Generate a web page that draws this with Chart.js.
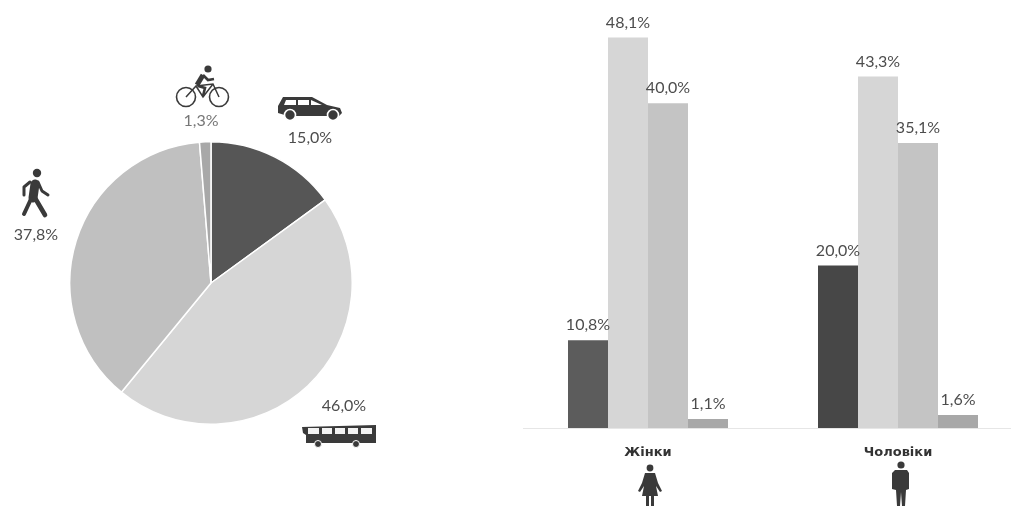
<!DOCTYPE html>
<html>
<head>
<meta charset="utf-8">
<style>
html, body { margin: 0; padding: 0; background: #fff; overflow: hidden; width: 1011px; height: 506px; }
canvas { position: absolute; }
#pie { left: 65px; top: 141px; }
#bars { left: 523px; top: 0; }
#icons { position: absolute; left: 0; top: 0; }
</style>
</head>
<body>
<canvas id="pie" width="292" height="284"></canvas>
<canvas id="bars" width="500" height="506"></canvas>

<!-- pictograms -->
<svg id="icons" width="1011" height="506" fill="#3a3a3a" stroke="none">
  <!-- bike -->
  <g fill="none" stroke="#3a3a3a">
    <circle cx="186" cy="97" r="9.5" stroke-width="1.6"/>
    <circle cx="219" cy="97" r="9.5" stroke-width="1.6"/>
    <path d="M186 97 L196 86 L213 84 L219 97 M196 86 L203 97 L213 84" stroke-width="1.5"/>
    <path d="M197 85 L203 75" stroke-width="5"/>
    <path d="M203 75 L208 80 L214 79 M198 86 L205 88 L203 96" stroke-width="2.6"/>
  </g>
  <circle cx="208" cy="69" r="3.6"/>
  <!-- car -->
  <path d="M278 113 L278 106 L283 97 L312 97 L327 105 L340 108 L342 113 L339 116 L293 116 L288 116 Z"/>
  <path d="M286 100 L296 100 L296 105 L284 105 Z M298 100 L309 100 L309 105 L298 105 Z M311 100 L322 105 L311 105 Z" fill="#fff"/>
  <circle cx="290" cy="115" r="5.5" stroke="#fff" stroke-width="1.6"/>
  <circle cx="333" cy="115" r="5.5" stroke="#fff" stroke-width="1.6"/>
  <!-- walker -->
  <circle cx="37" cy="173" r="4.2"/>
  <g fill="none" stroke="#3a3a3a" stroke-linecap="round" stroke-linejoin="round">
    <path d="M35 184 L33 198" stroke-width="9"/>
    <path d="M31 199 L24 214" stroke-width="4"/>
    <path d="M35 198 L45 215" stroke-width="4.6"/>
    <path d="M30 182 L24 187 L24 195" stroke-width="3"/>
    <path d="M38 182 L42 191 L48 195" stroke-width="3"/>
  </g>
  <!-- bus -->
  <path d="M302 427 L376 425 L376 443 L306 443 L306 435 L303 433 Z"/>
  <path d="M308 428 L319 428 L319 434 L308 434 Z M322 428 L332 428 L332 434 L322 434 Z M335 428 L345 428 L345 434 L335 434 Z M348 428 L358 428 L358 434 L348 434 Z M361 428 L372 428 L372 434 L361 434 Z" fill="#f2f2f2"/>
  <circle cx="318" cy="444" r="3.5" stroke="#fff" stroke-width="1"/>
  <circle cx="356" cy="444" r="3.5" stroke="#fff" stroke-width="1"/>
  <!-- woman -->
  <circle cx="650" cy="468" r="3.4"/>
  <path d="M645 473 L655 473 L658 483 L662 491 L660 492 L656 486 L658 496 L654 496 L654 506 L651 506 L651 496 L649 496 L649 506 L646 506 L646 496 L642 496 L644 486 L640 492 L638 491 L642 483 Z"/>
  <!-- man -->
  <circle cx="901" cy="465" r="3.6"/>
  <path d="M895 470 L907 470 L909 473 L909 489 L906 490 L905 506 L902 506 L901 492 L900 506 L897 506 L896 490 L892 489 L892 473 Z"/>
</svg>

<script src="https://cdn.jsdelivr.net/npm/chart.js@4"></script>
<script>
var modes = ['Автомобіль', 'Автобус', 'Пішки', 'Велосипед'];
var modeColors = ['#565656', '#d6d6d6', '#c0c0c0', '#a8a8a8'];
var totalValues = [15.0, 46.0, 37.8, 1.3];

var groups = ['Жінки', 'Чоловіки'];
var carValues = [10.8, 20.0];
var busValues = [48.1, 43.3];
var walkValues = [40.0, 35.1];
var bikeValues = [1.1, 1.6];

var textColor = '#4d4d4d';

function fmt(v) {
    return v.toFixed(1).replace('.', ',') + '%';
}

var barLabels = {
    id: 'barLabels',
    afterDatasetsDraw: function (chart) {
        var ctx = chart.ctx;
        ctx.save();
        ctx.font = '16px Lato';
        ctx.fillStyle = textColor;
        ctx.textAlign = 'center';
        ctx.textBaseline = 'bottom';
        chart.data.datasets.forEach(function (ds, d) {
            chart.getDatasetMeta(d).data.forEach(function (bar, i) {
                ctx.fillText(fmt(ds.data[i]), bar.x, bar.y - 7);
            });
        });
        ctx.restore();
    }
};

new Chart(document.getElementById('pie').getContext('2d'), {
    type: 'pie',
    data: {
        labels: modes,
        datasets: [{
            data: totalValues,
            backgroundColor: modeColors,
            borderColor: '#fff',
            borderWidth: 1.5
        }]
    },
    options: {
        responsive: false,
        animation: false,
        plugins: { legend: { display: false }, tooltip: { enabled: false } }
    }
});

new Chart(document.getElementById('bars').getContext('2d'), {
    type: 'bar',
    data: {
        labels: groups,
        datasets: [
            { label: modes[0], data: carValues, backgroundColor: ['#5c5c5c', '#474747'] },
            { label: modes[1], data: busValues, backgroundColor: '#d6d6d6' },
            { label: modes[2], data: walkValues, backgroundColor: '#c4c4c4' },
            { label: modes[3], data: bikeValues, backgroundColor: '#a8a8a8' }
        ]
    },
    options: {
        responsive: false,
        animation: false,
        layout: { padding: { top: 22 } },
        categoryPercentage: 0.64,
        barPercentage: 1,
        scales: {
            x: {
                grid: { display: false },
                border: { color: '#e6e6e6' },
                ticks: {
                    color: '#333',
                    font: { family: 'DejaVu Sans', size: 13, weight: 'bold' },
                    padding: 9
                },
                afterFit: function (scale) { scale.height = 78; }
            },
            y: { display: false, min: 0, max: 50 }
        },
        plugins: { legend: { display: false }, tooltip: { enabled: false } }
    },
    plugins: [barLabels]
});

// pie labels sit next to the pictograms, outside the pie canvas, so they go on the overlay
var overlay = document.getElementById('icons');
var pieLabelPlaces = [[310, 139], [344, 407], [36, 236], [201, 122]];
totalValues.forEach(function (v, i) {
    var t = document.createElementNS('http://www.w3.org/2000/svg', 'text');
    t.setAttribute('x', pieLabelPlaces[i][0]);
    t.setAttribute('y', pieLabelPlaces[i][1]);
    t.setAttribute('text-anchor', 'middle');
    t.setAttribute('dominant-baseline', 'middle');
    t.setAttribute('font-family', 'Lato');
    t.setAttribute('font-size', '16');
    t.setAttribute('fill', i === 3 ? '#777' : textColor);
    t.textContent = fmt(v);
    overlay.appendChild(t);
});
</script>
</body>
</html>
